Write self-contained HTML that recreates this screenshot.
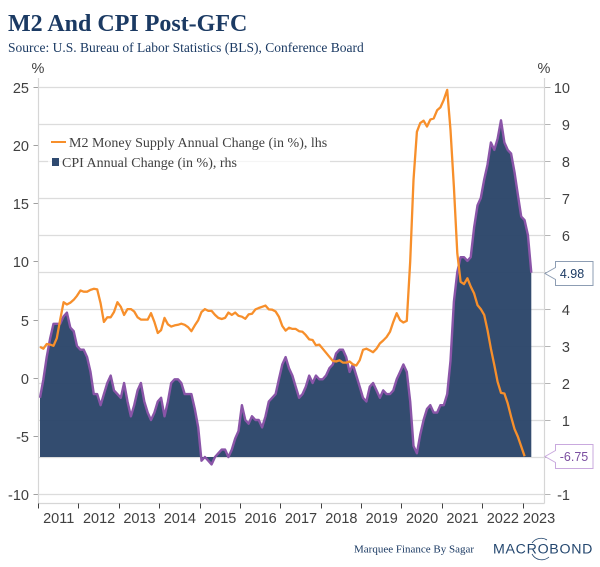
<!DOCTYPE html>
<html lang="en">
<head>
<meta charset="utf-8">
<title>M2 And CPI Post-GFC</title>
<style>
html,body{margin:0;padding:0;background:#fff;width:600px;height:567px;overflow:hidden}
svg{display:block}
.axis{font-family:"Liberation Sans",sans-serif;font-size:14.5px;fill:#404040}
.serif{font-family:"Liberation Serif",serif}
</style>
</head>
<body>
<svg id="chart" xmlns="http://www.w3.org/2000/svg" width="600" height="567" viewBox="0 0 600 567">
<text class="serif" x="8" y="31" font-size="24" font-weight="bold" fill="#1b3a63">M2 And CPI Post-GFC</text>
<text class="serif" x="8" y="52" font-size="13.5" fill="#1b3a63">Source: U.S. Bureau of Labor Statistics (BLS), Conference Board</text>
<text class="axis" x="38" y="73" text-anchor="middle" font-size="13">%</text>
<text class="axis" x="544" y="73" text-anchor="middle" font-size="13">%</text>
<g id="grid"></g>
<path id="cpi-area" fill="#2b4569" fill-opacity="0.96"></path>
<path id="cpi-line" fill="none" stroke="#8a55a8" stroke-width="2.4" stroke-linejoin="round"></path>
<path id="m2-line" fill="none" stroke="#f78f2b" stroke-width="2.3" stroke-linejoin="round"></path>
<g id="axes"></g>
<g>
<rect x="48" y="132" width="282" height="40" fill="#fff" fill-opacity="0.7"></rect>
<line x1="51" x2="66" y1="142" y2="142" stroke="#f78f2b" stroke-width="2"></line>
<text class="serif" x="69" y="147" font-size="14" fill="#404040">M2 Money Supply Annual Change (in %), lhs</text>
<rect x="52" y="158" width="7" height="8" fill="#2f4a70"></rect>
<text class="serif" x="62" y="167" font-size="14" fill="#404040">CPI Annual Change (in %), rhs</text>
</g>
<g>
<path id="callout-cpi-box" fill="#fff" stroke="#8d9db3" stroke-width="1"></path>
<text id="callout-cpi-text" x="572" y="278" text-anchor="middle" font-family="Liberation Sans, sans-serif" font-size="12.5" fill="#1b3a63"></text>
</g>
<g>
<path id="callout-m2-box" fill="#fff" stroke="#c9a9de" stroke-width="1"></path>
<text id="callout-m2-text" x="574" y="461" text-anchor="middle" font-family="Liberation Sans, sans-serif" font-size="12.5" fill="#7b4fa0"></text>
</g>
<text class="serif" x="354" y="552.5" font-size="11" fill="#1b3a63">Marquee Finance By Sagar</text>
<g>
<text x="493" y="553.5" font-family="Liberation Sans, sans-serif" font-size="14.2" letter-spacing="0.7" fill="#24476f">MACROBOND</text>
<path d="M532 543a11 11 0 0 1 15 -3M532 554a11 11 0 0 0 17 3" fill="none" stroke="#24476f" stroke-width="0.8"></path>
</g>
</svg>
<script>
const yearLabels = ["2011","2012","2013","2014","2015","2016","2017","2018","2019","2020","2021","2022","2023"];
const leftTicks = [25,20,15,10,5,0,-5,-10];
const rightTicks = [10,9,8,7,6,5,4,3,2,1,0,-1];
const rightLabels = [10,9,8,7,6,null,4,3,2,1,null,-1];
// Monthly values from Jan 2011
const cpiValues = [
1.6,2.1,2.7,3.2,3.6,3.6,3.6,3.8,3.9,3.5,3.4,3.0,
2.9,2.9,2.7,2.3,1.7,1.7,1.4,1.7,2.0,2.2,1.8,1.7,
1.6,2.0,1.5,1.1,1.4,1.8,2.0,1.5,1.2,1.0,1.2,1.5,
1.6,1.1,1.5,2.0,2.1,2.1,2.0,1.7,1.7,1.7,1.3,0.8,
-0.1,0.0,-0.1,-0.2,0.0,0.1,0.2,0.2,0.0,0.2,0.5,0.7,
1.4,1.0,0.9,1.1,1.0,1.0,0.8,1.1,1.5,1.6,1.7,2.1,
2.5,2.7,2.4,2.2,1.9,1.6,1.7,1.9,2.2,2.0,2.2,2.1,
2.1,2.2,2.4,2.5,2.8,2.9,2.9,2.7,2.3,2.5,2.2,1.9,
1.6,1.5,1.9,2.0,1.8,1.6,1.8,1.7,1.7,1.8,2.1,2.3,
2.5,2.3,1.5,0.3,0.1,0.6,1.0,1.3,1.4,1.2,1.2,1.4,
1.4,1.7,2.6,4.2,5.0,5.4,5.4,5.3,5.4,6.2,6.8,7.0,
7.5,7.9,8.5,8.3,8.6,9.1,8.5,8.3,8.2,7.7,7.1,6.5,
6.4,6.0,4.98];
const m2Values = [
2.65,2.5,2.9,2.85,2.75,3.4,5.0,6.5,6.3,6.45,6.7,7.05,
7.5,7.4,7.4,7.55,7.65,7.6,6.4,4.8,5.2,5.2,5.65,6.5,
6.1,5.4,5.9,5.9,5.7,5.2,5.0,5.0,5.0,5.55,4.8,3.85,
4.1,5.15,4.6,4.4,4.5,4.55,4.65,4.55,4.35,4.0,4.5,4.95,
5.65,5.9,5.75,5.75,5.4,5.15,5.05,5.15,5.6,5.4,5.6,5.33,
5.25,5.07,5.45,5.5,5.88,6.0,6.1,6.2,5.88,5.85,5.7,5.25,
4.45,4.05,4.3,4.2,4.2,4.0,3.95,3.67,3.3,3.25,2.8,2.85,
2.5,2.15,1.8,1.45,1.4,1.5,1.3,1.3,1.4,1.15,1.05,1.5,
2.4,2.5,2.35,2.2,2.5,2.95,3.2,3.5,3.95,4.8,5.55,4.95,
4.75,4.9,10.0,17.0,21.15,21.9,22.1,21.6,22.2,22.3,23.0,23.25,
23.9,24.75,21.3,16.4,10.7,8.25,8.05,8.55,7.85,7.25,6.25,5.9,
5.4,4.1,2.5,1.1,-0.35,-1.3,-1.35,-2.2,-3.35,-4.4,-5.05,-5.9,
-6.75];
const cpiLast = "4.98";
const m2Last = "-6.75";

const NS = "http://www.w3.org/2000/svg";
const plotL = 38.5, plotR = 544.5, plotB = 503.5, plotT = 78;
const xStep = 3.365;
const xYear = i => plotL + i * 12 * xStep;
const xMonth = i => 40 + i * xStep;
const yLeft = v => 87 + (25 - v) * 11.63;
const yRight = v => 87 + (10 - v) * 37;

function make(tag, attrs, parent, text) {
  const el = document.createElementNS(NS, tag);
  Object.keys(attrs).forEach(k => el.setAttribute(k, attrs[k]));
  if (text !== undefined) el.textContent = text;
  parent.appendChild(el);
  return el;
}
const grid = document.getElementById("grid");
const axes = document.getElementById("axes");

rightTicks.forEach((v, i) => {
  const y = Math.round(yRight(v)) + 0.5;
  const g = make("line", {x1: plotL, x2: plotR, y1: y, y2: y, stroke: "#dcdcdc", "stroke-width": 1.2}, grid);
  
  
  const t = make("line", {x1: plotR, x2: plotR + 6, y1: y, y2: y, stroke: "#b5b5b5", "stroke-width": 1}, axes);
  
  
  if (rightLabels[i] !== null) {
    const l = make("text", {class: "axis", x: 570, y: y + 5.5, "text-anchor": "end"}, axes, String(rightLabels[i]));
    
    
  }
});
leftTicks.forEach(v => {
  const y = Math.round(yLeft(v)) + 0.5;
  const t = make("line", {x1: plotL - 5, x2: plotL, y1: y, y2: y, stroke: "#a0a0a0", "stroke-width": 1}, axes);
  
  
  const l = make("text", {class: "axis", x: 29, y: y + 5.5, "text-anchor": "end"}, axes, String(v));
  
  
});
[[plotL, plotT, plotL, plotB], [plotR, plotT, plotR, plotB], [plotL, plotB, plotR, plotB]].forEach(c => {
  const a = make("line", {x1: c[0], y1: c[1], x2: c[2], y2: c[3], stroke: "#d6d6d6", "stroke-width": 1.2}, axes);
  
  
});
yearLabels.forEach((lab, i) => {
  const x = Math.round(xYear(i) - 0.5) + 0.5;
  const t = make("line", {x1: x, x2: x, y1: plotB, y2: plotB + 5, stroke: "#404040", "stroke-width": 1}, axes);
  
  
  const cx = i === yearLabels.length - 1 ? xYear(i) + 16 : xYear(i) + 20.2;
  const l = make("text", {class: "axis", x: cx, y: 523, "text-anchor": "middle"}, axes, lab);
  
  
});

const pts = (arr, yf) => arr.map((v, i) => xMonth(i).toFixed(1) + " " + yf(v).toFixed(1));
const cpiPts = pts(cpiValues, yRight);
const base = yRight(0).toFixed(1);
document.getElementById("cpi-area").setAttribute("d",
  "M" + xMonth(0).toFixed(1) + " " + base + " L" + cpiPts.join(" L") + " L" + xMonth(cpiValues.length - 1).toFixed(1) + " " + base + " Z");
document.getElementById("cpi-line").setAttribute("d", "M" + cpiPts.join(" L"));
document.getElementById("m2-line").setAttribute("d", "M" + pts(m2Values, yLeft).join(" L"));

function callout(id, textId, y, label) {
  document.getElementById(id).setAttribute("d",
    "M545 " + y + " L555.5 " + (y - 6) + " V" + (y - 12) + " H593 V" + (y + 12) + " H555.5 V" + (y + 6) + " Z");
  document.getElementById(textId).setAttribute("y", y + 4.5);
  document.getElementById(textId).textContent = label;
}
callout("callout-cpi-box", "callout-cpi-text", Math.round(yRight(cpiValues[cpiValues.length - 1])) + 0.5, cpiLast);
callout("callout-m2-box", "callout-m2-text", Math.round(yLeft(m2Values[m2Values.length - 1])) + 0.5, m2Last);
</script>
</body>
</html>
